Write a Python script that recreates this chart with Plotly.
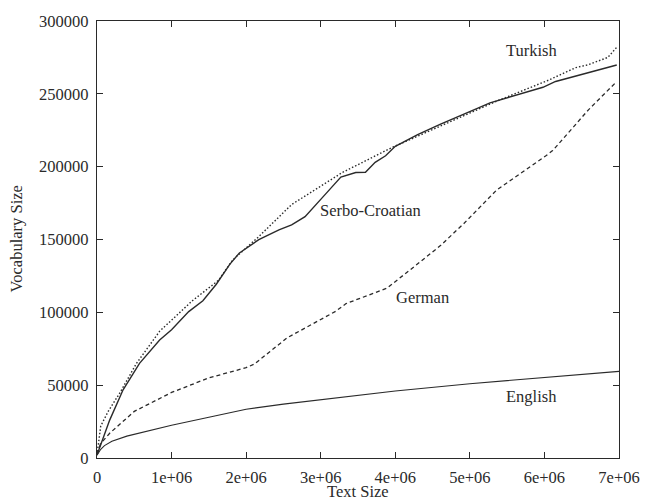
import plotly.graph_objects as go

# Vocabulary growth curves: vocabulary size vs. text size
turkish_x = [0, 0.05e6, 0.15e6, 0.31e6, 0.53e6, 0.84e6, 1.28e6, 1.63e6, 1.82e6, 2.17e6,
             2.61e6, 3.07e6, 3.29e6, 3.95e6, 4.75e6, 5.36e6, 6.06e6, 6.42e6, 6.59e6,
             6.85e6, 6.97e6]
turkish_y = [2000, 22000, 32000, 45000, 65000, 87000, 108000, 122000, 136000, 152000,
             174000, 189000, 196000, 213000, 231000, 245000, 259500, 268000, 270000,
             275000, 282000]

serbo_x = [0, 0.04e6, 0.17e6, 0.35e6, 0.57e6, 0.84e6, 1.0e6, 1.23e6, 1.42e6, 1.6e6,
           1.78e6, 1.91e6, 2.17e6, 2.44e6, 2.61e6, 2.79e6, 3.0e6, 3.07e6, 3.27e6,
           3.47e6, 3.6e6, 3.73e6, 3.87e6, 4.0e6, 4.3e6, 4.6e6, 5.1e6, 5.27e6,
           5.98e6, 6.15e6, 6.97e6]
serbo_y = [2000, 8000, 26000, 46800, 65000, 81000, 88000, 100500, 108000, 119300,
           132900, 140800, 149900, 156600, 160000, 165700, 178000, 181500, 192800,
           196000, 196200, 203000, 207500, 214000, 222000, 229000, 240000, 243800,
           254500, 258500, 269800]

german_x = [0, 0.05e6, 0.17e6, 0.5e6, 1.0e6, 1.5e6, 2.0e6, 2.11e6, 2.55e6, 3.2e6,
            3.34e6, 3.89e6, 4.17e6, 4.61e6, 4.92e6, 5.36e6, 6.02e6, 6.11e6, 6.59e6,
            6.97e6]
german_y = [3000, 10000, 17000, 32000, 45000, 55000, 62000, 64500, 82500, 100700,
            106000, 116600, 128000, 146000, 161000, 184000, 207500, 211000, 239000,
            258500]

english_x = [0, 0.05e6, 0.1e6, 0.2e6, 0.4e6, 0.7e6, 1.0e6, 1.5e6, 2.0e6, 2.5e6,
             3.0e6, 4.0e6, 5.0e6, 6.0e6, 7.0e6]
english_y = [2000, 6000, 8500, 11500, 15000, 19000, 22500, 28000, 33500, 37000,
             40000, 46000, 51000, 55000, 59500]

x_ticks = [0, 1e6, 2e6, 3e6, 4e6, 5e6, 6e6, 7e6]
x_tick_text = ["0", "1e+06", "2e+06", "3e+06", "4e+06", "5e+06", "6e+06", "7e+06"]
y_ticks = [0, 50000, 100000, 150000, 200000, 250000, 300000]
y_tick_text = ["0", "50000", "100000", "150000", "200000", "250000", "300000"]

# curve labels: (text, x, y)
labels = [("Turkish", 5.82e6, 280000),
          ("Serbo-Croatian", 3.67e6, 170000),
          ("German", 4.36e6, 110000),
          ("English", 5.83e6, 42000)]

FONT = "Liberation Serif"
INK = "#2a2a2a"
FS = 16.5

fig = go.Figure()
fig.add_trace(go.Scatter(x=turkish_x, y=turkish_y, mode="lines",
                         line=dict(color=INK, width=1.4, dash="1.5px,2px")))
fig.add_trace(go.Scatter(x=serbo_x, y=serbo_y, mode="lines",
                         line=dict(color=INK, width=1.4)))
fig.add_trace(go.Scatter(x=german_x, y=german_y, mode="lines",
                         line=dict(color=INK, width=1.3, dash="4px,3px")))
fig.add_trace(go.Scatter(x=english_x, y=english_y, mode="lines",
                         line=dict(color=INK, width=1.1)))

for text, lx, ly in labels:
    fig.add_annotation(x=lx, y=ly, text=text, showarrow=False,
                       font=dict(family=FONT, size=FS, color=INK))

# axis titles
fig.add_annotation(text="Text Size", xref="paper", yref="paper", x=0.5, y=0,
                   xanchor="center", yanchor="middle", yshift=-33, showarrow=False,
                   font=dict(family=FONT, size=FS, color=INK))
fig.add_annotation(text="Vocabulary Size", xref="paper", yref="paper", x=0, y=0.5,
                   xanchor="center", yanchor="middle", xshift=-81, textangle=-90,
                   showarrow=False, font=dict(family=FONT, size=FS, color=INK))

axis_common = dict(showgrid=False, zeroline=False, showline=True, linecolor=INK,
                   linewidth=1.2, mirror="ticks", ticks="inside", ticklen=6,
                   tickwidth=1.2, tickcolor=INK, ticklabelstandoff=4,
                   tickfont=dict(family=FONT, size=FS, color=INK))

fig.update_layout(
    width=652, height=500,
    margin=dict(l=97, r=24, t=18, b=42),
    paper_bgcolor="white", plot_bgcolor="white",
    showlegend=False,
    xaxis=dict(range=[0, 7e6], tickvals=x_ticks, ticktext=x_tick_text, **axis_common),
    yaxis=dict(range=[0, 300000], tickvals=y_ticks, ticktext=y_tick_text, **axis_common),
)

fig.write_html("out.html")
